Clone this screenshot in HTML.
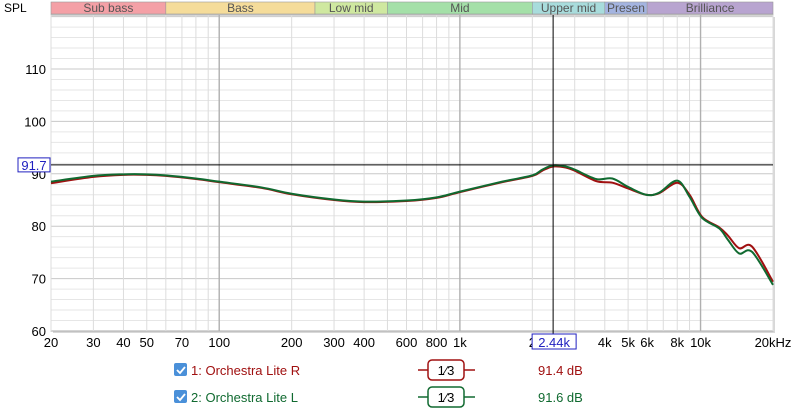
<!DOCTYPE html>
<html><head><meta charset="utf-8"><style>
body{margin:0;background:#fff;font-family:"Liberation Sans",sans-serif;}
svg text{font-family:"Liberation Sans",sans-serif;}
</style></head><body>
<svg id="chart" width="800" height="413" xmlns="http://www.w3.org/2000/svg">
<g id="bands"></g><g id="grid"></g><g id="curves"></g><g id="axes"></g><g id="legend"></g>
</svg>
<script>
const freqs=[20,30,40,50,60,80,100,150,200,300,400,600,800,1000,1500,2000,2200,2440,2750,3000,3690,4300,5000,5940,6730,8000,9000,10140,11940,13000,14460,16370,20000];
const rVals=[88.2,89.4,89.8,89.8,89.6,89.0,88.4,87.3,86.1,85.0,84.6,84.8,85.4,86.5,88.4,89.6,90.6,91.4,91.2,90.6,88.6,88.3,87.2,86.0,86.3,88.3,86.0,81.8,79.8,78.2,75.8,76.1,69.4];
const lVals=[88.5,89.6,89.9,89.9,89.7,89.1,88.5,87.4,86.2,85.1,84.7,84.9,85.5,86.6,88.5,89.7,90.8,91.6,91.4,90.8,89.0,89.1,87.5,86.0,86.4,88.7,85.6,81.6,79.6,77.4,74.8,75.1,68.8];
const yTicks=[60,70,80,90,100,110];
const xTickVals=[20,30,40,50,70,100,200,300,400,600,800,1000,2000,4000,5000,6000,8000,10000];
const xTickLabels=["20","30","40","50","70","100","200","300","400","600","800","1k","2","4k","5k","6k","8k","10k"];
const bandNames=["Sub bass","Bass","Low mid","Mid","Upper mid","Presen","Brilliance"];
const bandEdges=[20,60,250,500,2000,4000,6000,20000];
const bandColors=["#f4a0a6","#f5dc9a","#cfe8a0","#a4e0a8","#a8dcdc","#a4b4e0","#b8a4d0"];
const cursorF=2440, cursorDb=91.7;
const X0=51,X1=773,Y0=15,Y1=331,DB0=60,DBPX=5.24;
const NS="http://www.w3.org/2000/svg";
function xs(f){return X0+(Math.log10(f/20))/3*(X1-X0);}
function ys(d){return Y1-(d-DB0)*DBPX;}
function mk(tag,attrs,parent,txt){const e=document.createElementNS(NS,tag);for(const k in attrs)e.setAttribute(k,attrs[k]);if(txt!==undefined)e.textContent=txt;parent.appendChild(e);return e;}
const gB=document.getElementById('bands'),gG=document.getElementById('grid'),gC=document.getElementById('curves'),gA=document.getElementById('axes'),gL=document.getElementById('legend');
for(let i=0;i<bandNames.length;i++){
 const a=xs(bandEdges[i]),b=xs(bandEdges[i+1]);
 const r=mk('rect',{x:a,y:2,width:b-a,height:12,fill:bandColors[i],stroke:'#999','stroke-width':0.6},gB);
 
 
 const t=mk('text',{x:(a+b)/2,y:12,'font-size':12,'text-anchor':'middle',fill:'#555'},gB,bandNames[i]);
 
 
}
mk('rect',{x:X0+2,y:Y0+2,width:X1-X0,height:Y1-Y0,fill:'#d8d8d8'},gG);
mk('rect',{x:X0,y:Y0,width:X1-X0,height:Y1-Y0,fill:'#fff',stroke:'#aaa'},gG);
for(let d=62;d<=120;d+=2){mk('line',{x1:X0,x2:X1,y1:ys(d),y2:ys(d),stroke:d%10==0?'#c8c8c8':'#e6e6e6','stroke-width':1},gG);}
for(let dec=10;dec<=10000;dec*=10){for(let m=1;m<10;m++){const f=dec*m;if(f<20||f>20000)continue;const major=(m==1);mk('line',{x1:xs(f),x2:xs(f),y1:Y0,y2:Y1,stroke:major?'#b0b0b0':'#dcdcdc','stroke-width':major?1.4:1},gG);}}
function path(vals){const p=freqs.map((f,i)=>[xs(f),ys(vals[i])]);let d='M'+p[0][0]+','+p[0][1];
 for(let i=0;i<p.length-1;i++){const p0=p[Math.max(0,i-1)],p1=p[i],p2=p[i+1],p3=p[Math.min(p.length-1,i+2)];
 d+=` C${p1[0]+(p2[0]-p0[0])/6},${p1[1]+(p2[1]-p0[1])/6} ${p2[0]-(p3[0]-p1[0])/6},${p2[1]-(p3[1]-p1[1])/6} ${p2[0]},${p2[1]}`;}return d;}
const cr=mk('path',{d:path(rVals),fill:'none',stroke:'#a01010','stroke-width':2},gC);


const cl=mk('path',{d:path(lVals),fill:'none',stroke:'#106a30','stroke-width':2},gC);


mk('line',{x1:X0,x2:X1,y1:ys(cursorDb),y2:ys(cursorDb),stroke:'#000','stroke-width':1},gC);
mk('line',{x1:xs(cursorF),x2:xs(cursorF),y1:Y0,y2:Y1+4,stroke:'#000','stroke-width':1},gC);
const sp=mk('text',{x:4,y:12,'font-size':12,fill:'#000'},gA,'SPL');


yTicks.forEach(v=>{const t=mk('text',{x:46,y:ys(v)+5,'font-size':13,'text-anchor':'end'},gA,String(v));
 
 });
mk('rect',{x:18,y:ys(cursorDb)-7,width:32,height:14,fill:'#fff',stroke:'#2020c0'},gA);
const yc=mk('text',{x:34,y:ys(cursorDb)+5,'font-size':13,'text-anchor':'middle',fill:'#2020c0'},gA,String(cursorDb));


xTickVals.forEach((f,i)=>{const t=mk('text',{x:xs(f),y:347,'font-size':13,'text-anchor':'middle'},gA,xTickLabels[i]);
 
 });
mk('text',{x:773,y:347,'font-size':13,'text-anchor':'middle'},gA,'20kHz');
mk('rect',{x:xs(cursorF)-21,y:334,width:44,height:15,fill:'#fff',stroke:'#2020c0'},gA);
const xc=mk('text',{x:xs(cursorF)+1,y:347,'font-size':13,'text-anchor':'middle',fill:'#2020c0'},gA,'2.44k');


const leg=[["1: Orchestra Lite R","#a01010","91.4 dB",370],["2: Orchestra Lite L","#106a30","91.6 dB",397]];
leg.forEach((l,i)=>{const y=l[3];
 const cb=mk('rect',{x:174,y:y-7,width:13,height:13,rx:2,fill:'#4a90d9'},gL);
 
 
 mk('path',{d:`M177,${y} l3,3 l5,-6`,stroke:'#fff','stroke-width':1.8,fill:'none'},gL);
 const t=mk('text',{x:191,y:y+5,'font-size':13,fill:l[1]},gL,l[0]);
 
 
 mk('line',{x1:418,x2:475,y1:y,y2:y,stroke:l[1],'stroke-width':1.5},gL);
 const sm=mk('rect',{x:428,y:y-10,width:36,height:20,rx:4,fill:'#fff',stroke:l[1],'stroke-width':1.5},gL);
 
 
 mk('text',{x:446,y:y+5,'font-size':13,'text-anchor':'middle',fill:'#000'},gL,'1⁄3');
 const v=mk('text',{x:538,y:y+5,'font-size':13,fill:l[1]},gL,l[2]);
 
 
});
</script>
</body></html>
